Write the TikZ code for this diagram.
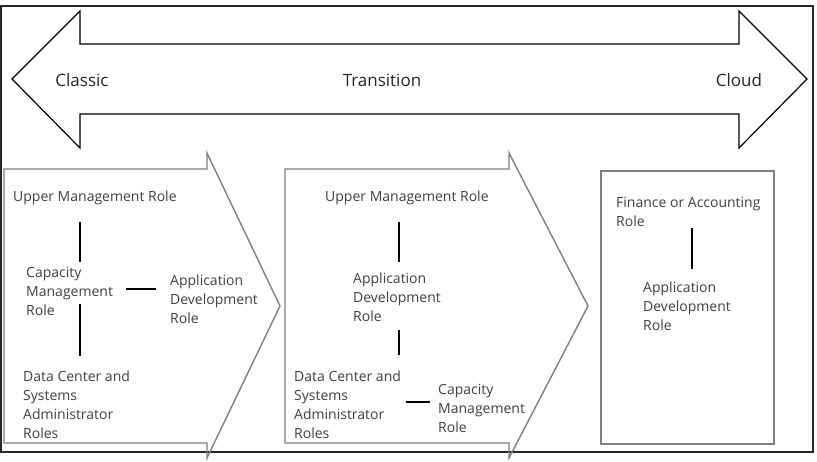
\documentclass[tikz,border=0pt]{standalone}
\usepackage{fontspec}
\setmainfont{Open Sans}
\usetikzlibrary{calc}

\tikzset{
  role/.style={anchor=base west, inner sep=0pt, align=left, text=black!75,
    font=\fontsize{14}{19}\selectfont},
  phase/.style={anchor=base, inner sep=0pt, text=black!85, font=\fontsize{17}{20}\selectfont},
  link/.style={line width=2.4pt, black},
  stage/.style={draw=black!50, line width=1.4pt, line join=miter},
}

\begin{document}
\begin{tikzpicture}[x=1pt,y=-1pt]
\useasboundingbox (0,0) rectangle (817,462);
\draw[line width=1.5pt, black!85] (1,6) rectangle (813,452);

% double arrow on top
\draw[line width=1.2pt] (12,79) -- (80,11) -- (80,44) -- (739,44) -- (739,11) -- (807,79)
  -- (739,148) -- (739,114) -- (80,114) -- (80,148) -- cycle;
\node[phase] (classic) at (82,87) {Classic};
\node[phase] (transition) at (382,87) {Transition};
\node[phase] (cloud) at (739,87) {Cloud};

% the three stages
\draw[stage] (4,169) -- (207,169) -- (207,153) -- (280,306) -- (207,458) -- (207,443) -- (4,443) -- cycle;
\draw[stage] (285,169) -- (509,169) -- (509,153) -- (588,306) -- (509,458) -- (509,443) -- (285,443) -- cycle;
\draw[stage] (601,171) rectangle (774,444);

% classic (base of a node = baseline of its last line)
\node[role] (um1) at (13,202) {Upper Management Role};
\node[role] (cm1) at (26,316) {Capacity\\Management\\Role};
\node[role] (ad1) at (170,324) {Application\\Development\\Role};
\node[role] (dc1) at (23,438) {Data Center and\\Systems\\Administrator\\Roles};
\draw[link] ($(um1.base -| 80,0)+(0,20)$) -- ($(cm1.base -| 80,0)+(0,-54)$);
\draw[link] ($(cm1.east |- ad1.base)+(13,-35)$) -- ($(ad1.base west)+(-14,-35)$);
\draw[link] ($(cm1.base -| 80,0)+(0,-12)$) -- ($(dc1.base -| 80,0)+(0,-82)$);

% transition
\node[role] (um2) at (325,202) {Upper Management Role};
\node[role] (ad2) at (353,322) {Application\\Development\\Role};
\node[role] (dc2) at (294,438) {Data Center and\\Systems\\Administrator\\Roles};
\node[role] (cm2) at (438,432) {Capacity\\Management\\Role};
\draw[link] ($(um2.base -| 399,0)+(0,20)$) -- ($(ad2.base -| 399,0)+(0,-60)$);
\draw[link] ($(ad2.base -| 399,0)+(0,8)$) -- ($(dc2.base -| 399,0)+(0,-83)$);
\draw[link] ($(dc2.east |- cm2.base)+(5,-30)$) -- ($(cm2.base west)+(-8,-30)$);

% cloud
\node[role] (fa3) at (616,227) {Finance or Accounting\\Role};
\node[role] (ad3) at (643,331) {Application\\Development\\Role};
\draw[link] ($(fa3.base -| 692,0)+(0,1)$) -- ($(ad3.base -| 692,0)+(0,-62)$);
\end{tikzpicture}
\end{document}
